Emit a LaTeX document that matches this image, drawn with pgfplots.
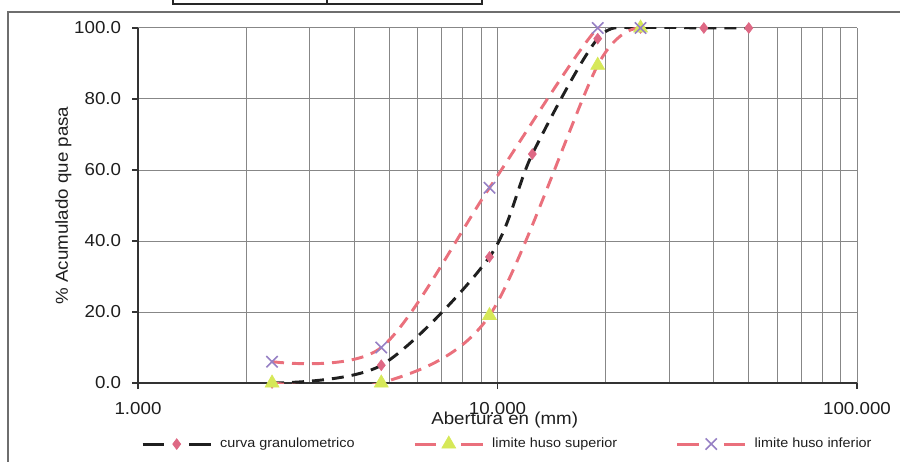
\documentclass[border=0pt]{standalone}
\usepackage{fontspec}
\setmainfont{Liberation Sans}[FakeStretch=1.08]
\usepackage{pgfplots}
\pgfplotsset{compat=1.18}
\definecolor{pinkl}{RGB}{234,112,124}
\definecolor{pinkm}{RGB}{222,104,132}
\definecolor{yelm}{RGB}{214,232,88}
\definecolor{purm}{RGB}{150,128,196}
\definecolor{gridc}{RGB}{135,135,135}
\definecolor{txt}{RGB}{30,30,30}
\definecolor{framec}{RGB}{110,110,110}
\begin{document}
\begin{tikzpicture}[x=1pt,y=1pt]
\useasboundingbox (0,0) rectangle (675,345.75);
% outer frame (partly outside the picture)
\draw[framec,line width=1.1pt] (6,-5) -- (6,336.75) -- (680,336.75);
% fragment of a table above the chart
\draw[black!85,line width=1.4pt] (129.75,352) -- (129.75,343) -- (361.5,343) -- (361.5,352);
\draw[black!85,line width=1.4pt] (245,343) -- (245,352);
\begin{axis}[
  at={(103.5pt,58.5pt)}, anchor=south west,
  scale only axis, width=539.25pt, height=266.25pt,
  xmode=log, xmin=1, xmax=100, ymin=0, ymax=100,
  axis lines=left, axis line style={-, draw=black!80, line width=1.1pt},
  xtick={1,10,100}, xticklabels={1.000,10.000,100.000},
  minor xtick={2,3,4,5,6,7,8,9,20,30,40,50,60,70,80,90},
  ytick={0,20,40,60,80,100}, yticklabels={0.0,20.0,40.0,60.0,80.0,100.0},
  grid=both,
  major grid style={gridc, line width=0.75pt},
  minor grid style={gridc, line width=0.75pt},
  tick align=outside, major tick length=4.5pt, minor tick length=0pt,
  tick style={black!80, line width=0.8pt},
  tick label style={font=\fontsize{13}{15}\selectfont, text=txt},
  xticklabel style={anchor=center, inner sep=0pt, yshift=-15pt},
  yticklabel style={anchor=east, inner sep=0pt, xshift=-8pt},
  xlabel={Abertura en (mm)},
  ylabel={\% Acumulado que pasa},
  label style={font=\fontsize{13}{15}\selectfont, text=txt},
  xlabel style={at={(axis description cs:0.510,0)}, anchor=center, inner sep=0pt, yshift=-27.5pt},
  ylabel style={at={(axis description cs:0,0.5)}, anchor=center, inner sep=0pt, rotate=0, yshift=56pt},
  clip=true,
  legend columns=3,
  legend style={at={(-0.0014,-0.169)}, anchor=west, draw=none, fill=none,
    font=\fontsize{10}{12}\selectfont, text=txt,
    nodes={inner sep=0pt, anchor=west},
    /tikz/every odd column/.append style={column sep=6pt},
    /tikz/every even column/.append style={column sep=44pt}},
  legend image code/.code={
    \draw[#1,dash pattern=on 16pt off 19pt,mark repeat=2,mark phase=2]
      plot coordinates {(0pt,0pt) (25.5pt,0pt) (51pt,0pt)};},
]
\addplot[black!88, line width=2.2pt, dash pattern=on 9pt off 6pt, smooth, tension=0.5,
  mark=diamond*, mark size=4pt, mark options={solid, fill=pinkm, draw=pinkm, line width=0.5pt}]
  coordinates {(2.36,0) (4.75,5) (9.5,35.5) (12.5,64.5) (19,97) (25,100) (37.5,100) (50,100)};
\addlegendentry{curva granulometrico}
\addplot[pinkl, line width=2.2pt, dash pattern=on 9pt off 6pt, smooth, tension=0.5,
  mark=triangle*, mark size=6pt, mark options={solid, fill=yelm, draw=yelm, line width=0.5pt}]
  coordinates {(2.36,0) (4.75,0) (9.5,19) (19,89.5) (25,100)};
\addlegendentry{limite huso superior}
\addplot[pinkl, line width=2.2pt, dash pattern=on 9pt off 6pt, smooth, tension=0.5,
  mark=x, mark size=6pt, mark options={solid, draw=purm, line width=1.2pt}]
  coordinates {(2.36,6) (4.75,10) (9.5,55) (19,100) (25,100)};
\addlegendentry{limite huso inferior}
\end{axis}
\end{tikzpicture}
\end{document}
